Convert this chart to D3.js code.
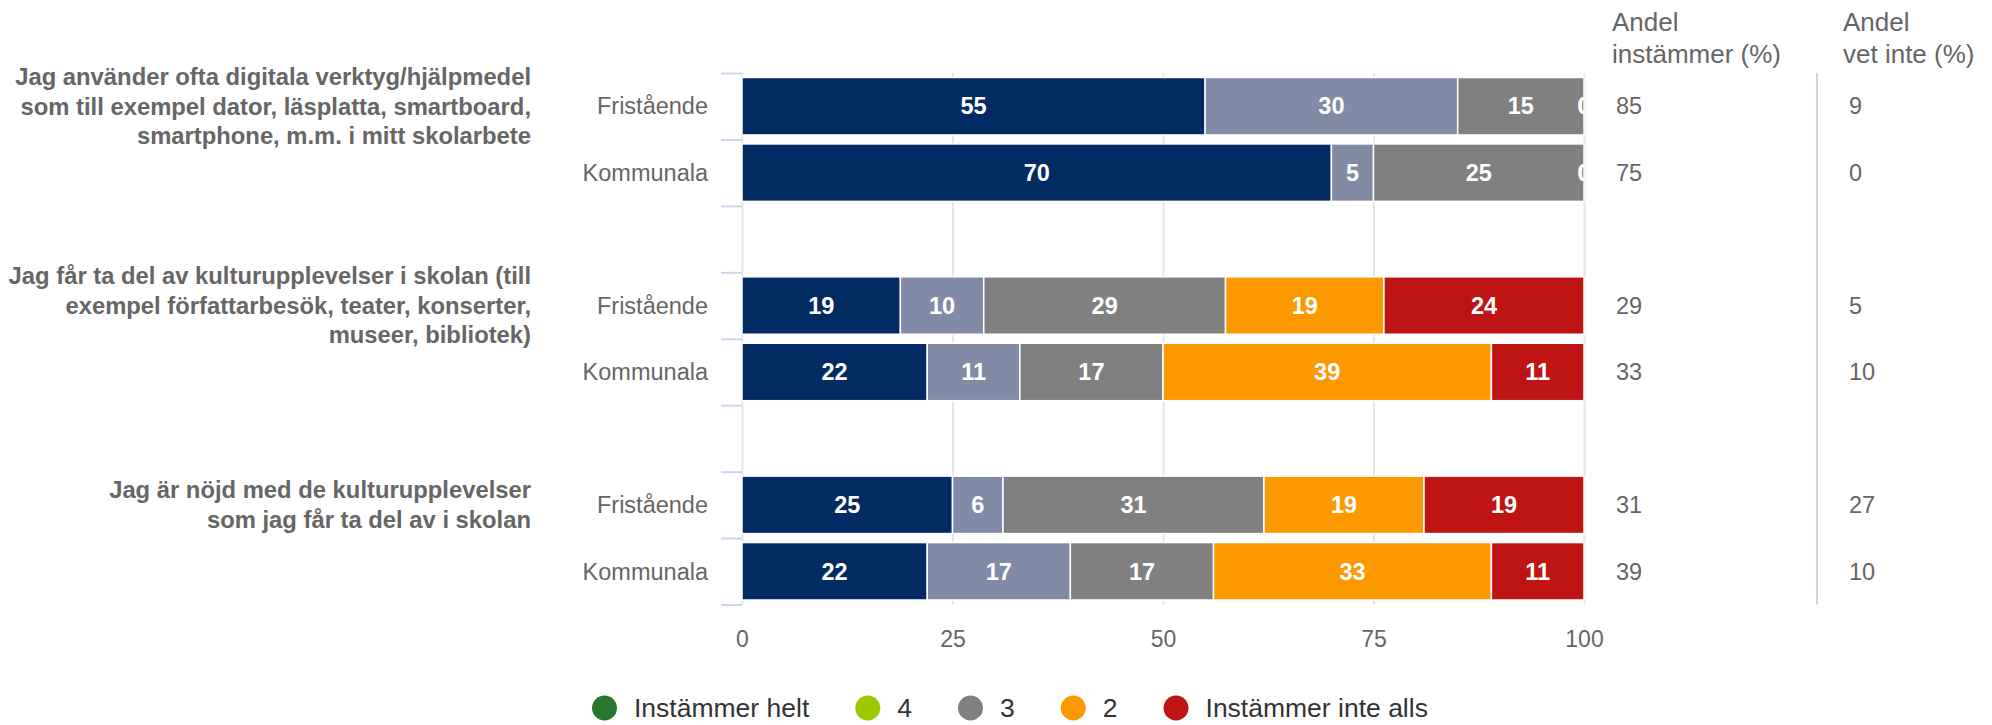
<!DOCTYPE html>
<html>
<head>
<meta charset="utf-8">
<script src="https://cdn.jsdelivr.net/npm/d3@7"></script>
<style>
  html, body { margin: 0; padding: 0; background: #fff; }
  svg { display: block; font-family: "Liberation Sans", Arial, Helvetica, sans-serif; }
</style>
</head>
<body>
<svg id="chart" width="1992" height="725"></svg>
<script>
// ---------- DATA ----------
const groupLabels = [
  ["Jag använder ofta digitala verktyg/hjälpmedel", "som till exempel dator, läsplatta, smartboard,", "smartphone, m.m. i mitt skolarbete"],
  ["Jag får ta del av kulturupplevelser i skolan (till", "exempel författarbesök, teater, konserter,", "museer, bibliotek)"],
  ["Jag är nöjd med de kulturupplevelser", "som jag får ta del av i skolan"]
];
const rowLabels = ["Fristående", "Kommunala"];
const seriesNames = ["Instämmer helt", "4", "3", "2", "Instämmer inte alls"];
// rows: g1 Fristående, g1 Kommunala, g2 Fristående, g2 Kommunala, g3 Fristående, g3 Kommunala
const instammerHelt = [55, 70, 19, 22, 25, 22];
const varde4       = [30, 5, 10, 11, 6, 17];
const varde3       = [15, 25, 29, 17, 31, 17];
const varde2       = [0, 0, 19, 39, 19, 33];
const instammerInteAlls = [0, 0, 24, 11, 19, 11];
const andelInstammer = [85, 75, 29, 33, 31, 39];
const andelVetInte   = [9, 0, 5, 10, 27, 10];
const xTicks = [0, 25, 50, 75, 100];
const headers = [["Andel", "instämmer (%)"], ["Andel", "vet inte (%)"]];

// ---------- STYLE ----------
const barColors = ["#032b63", "#818ba6", "#808080", "#fd9900", "#bf1414"];
const legendColors = ["#28772d", "#9cc800", "#808080", "#fd9900", "#bf1414"];
const textGrey = "#666666";

// ---------- LAYOUT ----------
const svg = d3.select("#chart");
const plotLeft = 742, plotRight = 1584, plotTop = 73, plotBottom = 604.5;

const seriesArrays = [instammerHelt, varde4, varde3, varde2, instammerInteAlls];
const rows = [];
let ri = 0;
groupLabels.forEach((g, gi) => {
  rowLabels.forEach((r, k) => {
    const rec = { key: "g" + gi + "-" + k, group: gi, label: r, idx: ri };
    seriesArrays.forEach((arr, si) => rec["s" + si] = arr[ri]);
    rows.push(rec);
    ri++;
  });
  if (gi < groupLabels.length - 1) rows.push({ key: "gap" + gi, gap: true });
});
const dataRows = rows.filter(r => !r.gap);

const y = d3.scaleBand().domain(rows.map(r => r.key)).range([plotTop, plotBottom]).paddingInner(0).paddingOuter(0);
const x = d3.scaleLinear().domain([0, 100]).range([plotLeft, plotRight]);
const yIdx = d3.scaleLinear().domain([0, rows.length]).range([plotTop, plotBottom]);

// gridlines
const grid = svg.append("g").attr("transform", `translate(0,${plotBottom})`)
  .call(d3.axisBottom(x).tickValues(xTicks).tickSize(-(plotBottom - plotTop)).tickFormat(""));
grid.select(".domain").remove();
grid.selectAll("line").attr("stroke", "#e6e6e6").attr("stroke-width", 2);

// x tick labels
const xAxis = svg.append("g").attr("transform", `translate(0,${plotBottom})`)
  .call(d3.axisBottom(x).tickValues(xTicks).tickSize(0).tickPadding(0).tickFormat(d3.format("d")));
xAxis.select(".domain").remove();
xAxis.selectAll("text").attr("y", 42.5).attr("dy", 0).attr("fill", textGrey)
  .attr("font-size", 23).attr("font-family", null);

// category boundary ticks
const yTicks = svg.append("g").attr("transform", `translate(${plotLeft},0)`)
  .call(d3.axisLeft(yIdx).tickValues(d3.range(rows.length + 1)).tickSize(21).tickFormat(""));
yTicks.select(".domain").remove();
yTicks.selectAll("line").attr("stroke", "#ccd6eb").attr("stroke-width", 2);

// category labels
const yAxis = svg.append("g").attr("transform", `translate(${plotLeft},0)`)
  .call(d3.axisLeft(y).tickSize(0).tickPadding(34)
    .tickFormat(k => { const r = rows.find(rr => rr.key === k); return r.gap ? "" : r.label; }));
yAxis.select(".domain").remove();
yAxis.selectAll("text").attr("fill", textGrey).attr("font-size", 23.5).attr("font-family", null).attr("dy", "0.35em");

// stacked bars (percent stacking)
const keys = seriesNames.map((s, i) => "s" + i);
const stack = d3.stack().keys(keys).offset(d3.stackOffsetExpand);
const stacked = stack(dataRows);

svg.append("defs").append("clipPath").attr("id", "plotClip")
  .append("rect").attr("x", plotLeft).attr("y", plotTop - 5).attr("width", plotRight - plotLeft).attr("height", plotBottom - plotTop + 10);

const barInset = 4.5;
const barH = y.bandwidth() - 2 * barInset;
const barsG = svg.append("g");
stacked.forEach((layer, si) => {
  barsG.selectAll(null).data(layer).join("rect")
    .attr("x", d => x(d[0] * 100))
    .attr("y", d => y(d.data.key) + barInset)
    .attr("width", d => Math.max(0, x(d[1] * 100) - x(d[0] * 100)))
    .attr("height", barH)
    .attr("fill", barColors[si])
    .attr("stroke", "#ffffff")
    .attr("stroke-width", 1.5);
});

// data labels
const labelsG = svg.append("g").attr("clip-path", "url(#plotClip)");
stacked.forEach((layer, si) => {
  labelsG.selectAll(null).data(layer).join("text")
    .attr("x", d => x((d[0] + d[1]) / 2 * 100))
    .attr("y", d => y(d.data.key) + y.bandwidth() / 2)
    .attr("dy", "0.35em")
    .attr("text-anchor", "middle")
    .attr("fill", "#ffffff")
    .attr("font-weight", "bold")
    .attr("font-size", 23.5)
    .text(d => d.data[layer.key]);
});

// group labels (bold, right aligned, centered on Fristående row)
const lineH = 29.5;
groupLabels.forEach((lines, gi) => {
  const cy = y("g" + gi + "-0") + y.bandwidth() / 2;
  const t = svg.append("text")
    .attr("text-anchor", "end")
    .attr("fill", textGrey)
    .attr("font-weight", "bold")
    .attr("font-size", 23.8);
  lines.forEach((ln, li) => {
    t.append("tspan").attr("x", 531)
      .attr("y", cy + (li - (lines.length - 1) / 2) * lineH)
      .attr("dy", "0.35em")
      .text(ln);
  });
});

// right columns
const colX = [1612, 1843];
const colNumX = [1616, 1849];
const colData = [andelInstammer, andelVetInte];
headers.forEach((h, ci) => {
  const t = svg.append("text").attr("fill", textGrey).attr("font-size", 26);
  h.forEach((ln, li) => t.append("tspan").attr("x", colX[ci]).attr("y", 31 + li * 32).text(ln));
  svg.append("g").selectAll("text").data(dataRows).join("text")
    .attr("x", colNumX[ci])
    .attr("y", d => y(d.key) + y.bandwidth() / 2)
    .attr("dy", "0.35em")
    .attr("fill", textGrey)
    .attr("font-size", 23.5)
    .text(d => colData[ci][d.idx]);
});
svg.append("line").attr("x1", 1817).attr("x2", 1817).attr("y1", plotTop).attr("y2", plotBottom)
  .attr("stroke", "#ccd6eb").attr("stroke-width", 2);

// legend
const legendY = 708;
const legend = svg.append("g");
let lx = 0;
const r = 12.5, textGap = 17, itemDist = 46;
seriesNames.forEach((name, i) => {
  const g = legend.append("g").attr("transform", `translate(${lx},0)`);
  g.append("circle").attr("cx", r).attr("cy", legendY).attr("r", r).attr("fill", legendColors[i]);
  const t = g.append("text").attr("x", 2 * r + textGap).attr("y", legendY).attr("dy", "0.35em")
    .attr("fill", "#333333").attr("font-size", 26.5).text(name);
  const w = t.node().getComputedTextLength();
  lx += 2 * r + textGap + w + itemDist;
});
legend.attr("transform", `translate(${592},0)`);
</script>
</body>
</html>
